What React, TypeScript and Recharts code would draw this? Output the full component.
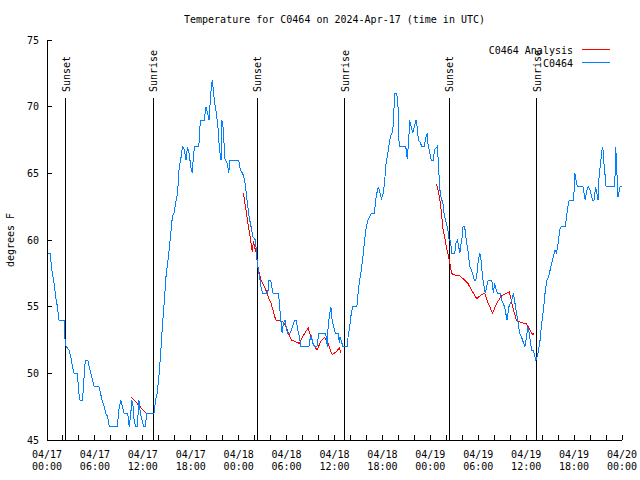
import React from 'react';
import { LineChart, Line, XAxis, YAxis, ReferenceLine } from 'recharts';

// hours since 04/17 00:00 UTC, temperature in degrees F
const obsHours = [
  0, 0.4, 0.6, 0.88, 1.09, 1.3, 1.5, 2.13, 2.2, 2.4,
  2.76, 2.97, 3.2, 3.4, 3.8, 4.0, 4.14, 4.4, 4.56, 4.7,
  4.85, 5.1, 5.27, 5.5, 5.7, 5.9, 6.5, 6.7, 6.9, 7.15,
  7.36, 7.6, 7.8, 8.8, 9.0, 9.25, 9.45, 9.65, 10.1, 10.3,
  10.5, 10.6, 10.8, 10.9, 11.1, 11.3, 11.46, 11.5, 11.7, 11.9,
  12.1, 12.3, 12.5, 13.4, 13.6, 13.8, 14.05, 14.26, 14.47, 14.7,
  14.9, 15.1, 15.3, 15.5, 15.7, 15.9, 16.1, 16.35, 16.56, 16.8,
  16.97, 17.2, 17.4, 17.6, 17.8, 18.0, 18.2, 18.35, 18.5, 19.0,
  19.07, 19.2, 19.7, 19.9, 20.1, 20.3, 20.5, 20.7, 20.95, 21.2,
  21.4, 21.6, 21.8, 21.9, 22.1, 22.2, 22.3, 22.6, 22.75, 22.9,
  24.0, 24.2, 24.5, 24.75, 24.9, 25.1, 25.3, 25.55, 25.76, 26.1,
  26.26, 26.4, 26.6, 26.8, 27.0, 27.64, 27.8, 28.0, 28.3, 29.0,
  29.2, 29.45, 29.6, 29.8, 30.1, 30.4, 30.6, 31.0, 31.2, 31.4,
  31.6, 31.8, 32.8, 32.9, 33.1, 33.3, 33.5, 33.8, 34.05, 34.9,
  35.1, 35.2, 35.4, 35.55, 35.7, 35.9, 36.1, 36.5, 36.6, 36.7,
  37.05, 37.6, 37.7, 37.9, 38.1, 38.3, 38.8, 38.9, 39.1, 39.35,
  39.56, 39.77, 39.98, 40.2, 40.4, 40.6, 41.0, 41.15, 41.3, 41.5,
  41.7, 41.9, 42.1, 42.3, 42.4, 42.6, 42.8, 43.0, 43.2, 43.4,
  43.5, 43.8, 43.95, 44.1, 44.9, 45.0, 45.1, 45.3, 45.4, 45.6,
  45.8, 46.1, 46.2, 46.35, 46.5, 46.8, 46.9, 47.3, 47.35, 47.6,
  47.7, 47.85, 48.1, 48.4, 48.5, 48.85, 49.0, 49.1, 49.2, 49.4,
  49.55, 49.65, 49.8, 50.0, 50.2, 50.35, 50.5, 50.6, 50.7, 51.05,
  51.2, 51.4, 51.55, 51.7, 51.85, 52.0, 52.1, 52.3, 52.5, 52.7,
  52.95, 53.15, 53.4, 53.5, 53.7, 53.9, 54.0, 54.2, 54.35, 54.45,
  54.6, 54.8, 54.9, 55.05, 55.25, 55.7, 55.8, 55.9, 56.05, 56.25,
  56.4, 56.8, 56.9, 57.1, 57.3, 57.45, 57.6, 57.85, 58.2, 58.4,
  58.6, 58.8, 59.0, 59.2, 59.4, 59.6, 59.85, 60.1, 60.2, 60.4,
  60.55, 60.7, 60.9, 61.1, 61.2, 61.4, 61.7, 61.9, 62.1, 62.25,
  62.4, 62.6, 62.8, 63.0, 63.2, 63.4, 63.6, 63.8, 64.0, 64.2,
  64.4, 64.9, 65.1, 65.3, 65.4, 65.9, 66.05, 66.1, 66.25, 66.4,
  67.1, 67.25, 67.4, 67.6, 67.8, 68.0, 68.3, 68.5, 68.6, 68.7,
  68.85, 69.0, 69.1, 69.3, 69.4, 69.5, 69.6, 69.7, 69.9, 70.0,
  71.1, 71.2, 71.3, 71.4, 71.5, 71.6, 71.75, 72,
];
const obsTemps = [
  59, 59, 57.75, 56.75, 55.75, 55, 54, 54, 52.75, 52,
  51.75, 51.25, 50.5, 50, 50, 48.5, 48, 48, 48.75, 50.5,
  51, 51, 50.5, 50, 49.5, 49, 49, 48.5, 48, 47.5,
  47, 46.75, 46, 46, 47.25, 48, 47.5, 47, 47, 46,
  47, 48, 47.5, 46.5, 46, 46, 47.5, 48, 47, 46.5,
  46, 46, 47, 47, 48, 48.5, 50, 51.75, 53.75, 55.5,
  57.25, 58.25, 59.25, 60.5, 61.75, 62, 62.75, 63.5, 65.5, 66.25,
  67, 66.75, 66, 67, 66.5, 65.5, 65, 66.5, 67, 67,
  67.5, 69, 69, 70, 69.5, 69, 71, 72, 70.5, 69.5,
  68.5, 66.75, 66, 69, 68.25, 66.75, 66, 65.75, 65, 66,
  66, 65.25, 65, 64.5, 63.75, 62.75, 61.75, 61, 60.25, 60,
  58.75, 58, 57.25, 56.5, 56, 56, 57, 57, 56, 56,
  54.5, 53, 53.75, 54, 53, 53, 53.25, 54, 54, 53.25,
  52.75, 52, 52, 52.5, 52.75, 52.25, 52, 52, 53, 53,
  52, 53.5, 54.5, 55, 54, 53.5, 53, 53, 52.25, 52.75,
  52, 52, 52.75, 53.5, 54.5, 55, 55, 55.75, 56.75, 57.75,
  58.75, 60, 61, 61.5, 61.75, 62, 62, 63, 63.5, 64,
  63.5, 63.1, 63.5, 64.5, 65.5, 66.25, 67, 67.75, 68, 68.75,
  71, 71, 70, 67, 67, 66.75, 66.1, 67.5, 69, 68.5,
  68, 68.75, 69, 68.5, 67.5, 67.25, 67, 67, 67.5, 68,
  67.25, 66.75, 66, 66, 66.75, 67, 66, 64.75, 63.75, 63,
  63, 62.25, 61.75, 61.25, 60.75, 60, 60, 59.5, 59, 59,
  59.75, 60, 59.5, 59, 59.75, 60.25, 61, 61, 60, 59.25,
  58, 57.75, 57.25, 57, 57, 57.75, 58.5, 59, 58.5, 57.75,
  57, 56.25, 56, 56.5, 57, 57, 56.5, 56, 56.75, 56.25,
  56, 56, 55.5, 55.25, 55, 54.5, 54, 55, 55.5, 56,
  55.25, 54.5, 53.75, 53, 52.75, 52.4, 52, 53, 53.5, 53,
  52.25, 51.75, 51.75, 51.25, 51, 51.25, 52.25, 53.5, 54.5, 55.25,
  56.25, 57, 57.25, 57.75, 58.25, 58.75, 59.25, 59, 59.75, 60.75,
  61, 61, 62, 62.75, 63, 63, 64, 65, 64.5, 64,
  64, 63.5, 63, 63.75, 64, 63.75, 63, 63, 63.5, 64,
  63.5, 63, 64.5, 65.75, 66.25, 66.75, 67, 66, 64.75, 64,
  64, 67, 66, 64.5, 63.25, 63.5, 64, 64,
];

// analysis runs; null marks a gap between runs
const anaHours = [
  10.6, 11.2, 11.8, 12.45, 18,
  24.6, 24.85, 25.1, 25.3, 25.5, 25.7, 25.85, 25.95, 26.2, 26.4,
  26.6, 26.8, 27.0, 27.4, 27.6, 27.85, 28.05, 28.3, 28.5, 28.7,
  29.5, 29.95, 30.4, 30.6, 31.6, 32.0, 32.7, 33.3, 33.8, 34.3,
  34.75, 35.2, 35.7, 36.2, 36.6, 36.85, 42,
  48.75, 48.95, 49.2, 49.4, 49.6, 49.8, 50.0, 50.2, 50.45, 50.65,
  50.9, 51.7, 52.1, 52.7, 53.15, 53.8, 54.4, 54.8, 55.25, 55.8,
  56.3, 56.9, 57.9, 58.3, 58.8, 59.4, 60.05, 60.5, 60.8, 61.0,
];
const anaTemps = [
  48.2, 47.8, 47.4, 47.0, null,
  63.5, 62.5, 61.5, 60.75, 60, 59.1, 59.9, 59.6, 59, 58,
  57.5, 57, 56.75, 56.25, 55.9, 55.5, 55.25, 54.75, 54.25, 54,
  53.9, 53.5, 52.75, 52.5, 52.25, 52.75, 53.4, 52.25, 51.75, 52.4,
  52.7, 52.25, 51.4, 51.6, 51.9, 51.5, null,
  64.2, 63.8, 63, 62, 60.75, 60.25, 59.5, 59, 58.25, 57.5,
  57.4, 57.3, 57.1, 56.75, 56.25, 55.6, 55.9, 56, 55.25, 54.5,
  55.25, 55.8, 56.1, 55, 53.95, 53.8, 53.7, 53.25, 52.9, 53,
];

const sunHours = [2.34, 13.31, 26.3, 37.3, 50.37, 61.32];
const sunLabels = ['Sunset', 'Sunrise', 'Sunset', 'Sunrise', 'Sunset', 'Sunrise'];

const hourTicks = Array.from({ length: 37 }, (_, i) => i * 2);
const tempTicks = [45, 50, 55, 60, 65, 70, 75];

const obsData = obsHours.map((t, i) => ({ t, v: obsTemps[i] }));
const anaData = anaHours.map((t, i) => ({ t, v: anaTemps[i] }));

const FONT = '"DejaVu Sans Mono", "Liberation Mono", monospace';
const BLUE = '#0080ff';
const RED = '#ff0000';
const SUN_LINE_TOP = 70.65;

function pad(n: number) {
  return String(n).padStart(2, '0');
}

function BottomTick({ x, y, payload }: any) {
  const base = y - 8;
  const h = payload.value;
  const show = h % 6 === 0;
  return (
    <g>
      <line x1={x} x2={x} y1={base} y2={base - 5} stroke="#000" shapeRendering="crispEdges" />
      {show && (
        <text x={x} y={base + 17.5} textAnchor="middle" fontFamily={FONT} fontSize={10} fill="#000">
          {'04/' + (17 + Math.floor(h / 24))}
        </text>
      )}
      {show && (
        <text x={x} y={base + 30} textAnchor="middle" fontFamily={FONT} fontSize={10} fill="#000">
          {pad(h % 24) + ':00'}
        </text>
      )}
    </g>
  );
}

function TopTick({ x, y }: any) {
  const base = y + 8;
  return <line x1={x} x2={x} y1={base} y2={base + 5} stroke="#000" shapeRendering="crispEdges" />;
}

function LeftTick({ x, y, payload }: any) {
  const base = x + 8;
  return (
    <g>
      <line x1={base} x2={base + 5} y1={y} y2={y} stroke="#000" shapeRendering="crispEdges" />
      <text x={base - 8} y={y + 3.5} textAnchor="end" fontFamily={FONT} fontSize={10} fill="#000">
        {payload.value}
      </text>
    </g>
  );
}

function RightTick({ x, y }: any) {
  const base = x - 8;
  return <line x1={base} x2={base - 5} y1={y} y2={y} stroke="#000" shapeRendering="crispEdges" />;
}

function YLabel({ viewBox }: any) {
  if (!viewBox) return null;
  const x = viewBox.x + 13.5;
  const y = viewBox.y + viewBox.height / 2;
  return (
    <text x={x} y={y} transform={`rotate(-90 ${x} ${y})`} textAnchor="middle" fontFamily={FONT} fontSize={10} fill="#000">
      degrees F
    </text>
  );
}

function SunLabel({ viewBox, text }: any) {
  if (!viewBox) return null;
  const x = viewBox.x + 4;
  const y = viewBox.y - 6;
  return (
    <text x={x} y={y} transform={`rotate(-90 ${x} ${y})`} fontFamily={FONT} fontSize={10} fill="#000">
      {text}
    </text>
  );
}

export default function App() {
  return (
    <div style={{ position: 'absolute', left: 0, top: 0, width: 640, height: 480, background: '#fff' }}>
      <div
        style={{
          position: 'absolute', left: 47, top: 14, width: 575, textAlign: 'center',
          fontFamily: FONT, fontSize: 10, lineHeight: '12px', color: '#000',
        }}
      >
        Temperature for C0464 on 2024-Apr-17 (time in UTC)
      </div>
      <LineChart width={640} height={480} margin={{ top: 40, right: 18, bottom: 0, left: 0 }}>
        <XAxis
          dataKey="t" type="number" domain={[0, 72]} ticks={hourTicks} interval={0}
          height={40} tickSize={6} tickMargin={2} tickLine={false}
          axisLine={{ stroke: '#000', shapeRendering: 'crispEdges' }}
          tick={<BottomTick />} allowDataOverflow
        />
        <XAxis
          xAxisId="top" orientation="top" dataKey="t" type="number" domain={[0, 72]} ticks={hourTicks}
          interval={0} height={0} tickSize={6} tickMargin={2} tickLine={false}
          axisLine={{ stroke: '#000', shapeRendering: 'crispEdges' }}
          tick={<TopTick />} allowDataOverflow
        />
        <YAxis
          type="number" domain={[45, 75]} ticks={tempTicks} interval={0} width={47}
          tickSize={6} tickMargin={2} tickLine={false}
          axisLine={{ stroke: '#000', shapeRendering: 'crispEdges' }}
          tick={<LeftTick />} label={<YLabel />} allowDataOverflow
        />
        <YAxis
          yAxisId="right" orientation="right" type="number" domain={[45, 75]} ticks={tempTicks}
          interval={0} width={0} tickSize={6} tickMargin={2} tickLine={false}
          axisLine={{ stroke: '#000', shapeRendering: 'crispEdges' }}
          tick={<RightTick />} allowDataOverflow
        />
        {sunHours.map((h, i) => (
          <ReferenceLine
            key={i}
            segment={[{ x: h, y: SUN_LINE_TOP }, { x: h, y: 45 }]}
            stroke="#000"
            strokeWidth={1}
            shapeRendering="crispEdges"
            label={<SunLabel text={sunLabels[i]} />}
          />
        ))}
        <Line
          data={anaData} dataKey="v" name="C0464 Analysis" stroke={RED} strokeWidth={1}
          dot={false} activeDot={false} isAnimationActive={false} connectNulls={false}
          shapeRendering="crispEdges"
        />
        <Line
          data={obsData} dataKey="v" name="C0464" stroke={BLUE} strokeWidth={1}
          dot={false} activeDot={false} isAnimationActive={false}
          shapeRendering="crispEdges"
        />
      </LineChart>
      <svg width={640} height={480} style={{ position: 'absolute', left: 0, top: 0, pointerEvents: 'none' }}>
        <text x={573} y={53.5} textAnchor="end" fontFamily={FONT} fontSize={10} fill="#000">C0464 Analysis</text>
        <line x1={582} x2={610} y1={49.5} y2={49.5} stroke={RED} />
        <text x={573} y={67} textAnchor="end" fontFamily={FONT} fontSize={10} fill="#000">C0464</text>
        <line x1={582} x2={610} y1={62.5} y2={62.5} stroke={BLUE} />
      </svg>
    </div>
  );
}
